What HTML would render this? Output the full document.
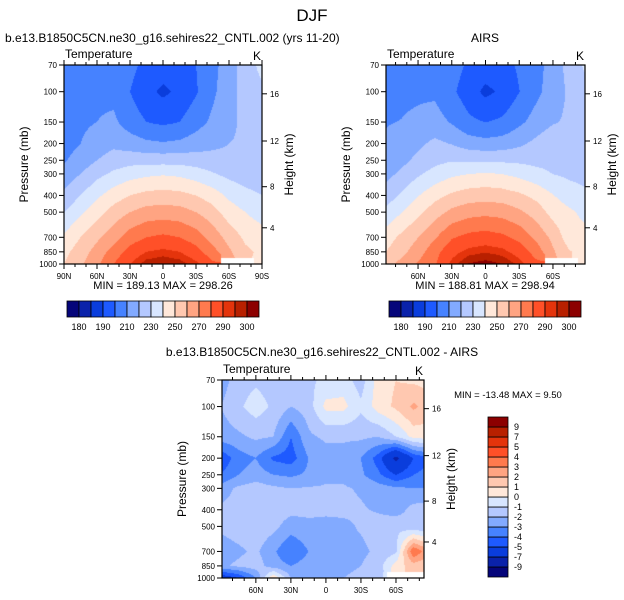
<!DOCTYPE html>
<html><head><meta charset="utf-8">
<style>
html,body{margin:0;padding:0;background:#fff;}
#wrap{position:relative;width:624px;height:600px;overflow:hidden;font-family:"Liberation Sans",sans-serif;}
canvas{position:absolute;}
svg{position:absolute;left:0;top:0;}
</style></head>
<body>
<div id="wrap">
<canvas id="c1"></canvas>
<canvas id="c2"></canvas>
<canvas id="c3"></canvas>
<svg id="s" width="624" height="600"></svg>
</div>
<script>
// ---- data ----
const lats = [90,75,60,45,30,15,0,-15,-30,-45,-60,-75,-90];
const pLevels = [70,100,150,200,250,300,400,500,700,850,1000];
const cntlT = [
[205,205,206,205,203,197,195,196,200,207,215,225,233],
[207,207,208,207,200,193,188,192,199,208,216,224,228],
[207,208,210,212,205,200,198,200,206,212,218,222,224],
[206,210,215,218,215,212,211,212,215,218,220,221,222],
[209,214,220,224,226,226,226,226,225,223,222,221,221],
[214,220,227,232,236,238,239,238,235,231,227,225,224],
[222,230,238,245,250,253,254,253,250,245,238,233,230],
[230,238,246,254,260,264,265,264,260,254,245,240,235],
[242,250,258,266,275,280,282,280,275,266,256,248,245],
[247,255,264,274,284,290,292,290,284,274,262,252,248],
[250,258,268,280,290,298,300,298,292,282,null,null,246]];
const diffT = [
[-2.5,-1.5,-1.2,-1.5,-1.8,-1.2,-0.8,-0.5,-1.5,0.5,1,0.8,0.5],
[-2,-1.2,-0.5,-1.2,-2,-1.5,0.3,0.3,-0.8,0.5,1.2,2.2,1.5],
[-2.5,-2.2,-1.8,-2,-4,-2.2,-1.8,-1.8,-1.8,-2,-1,0.3,0.5],
[-4.8,-3.5,-3,-4.2,-4.5,-3,-2.5,-2.5,-3,-4.5,-7.5,-5,-4],
[-4,-3,-2.5,-3,-3.2,-2.8,-2.2,-2.2,-2.8,-3.8,-5,-4,-3.5],
[-2.5,-1.8,-1.5,-1.8,-2,-1.9,-1.9,-1.9,-2.1,-2.5,-2.8,-3,-3],
[-1.8,-1.6,-1.4,-1.5,-1.7,-1.8,-1.8,-1.8,-1.9,-2.1,-2.5,-1.6,-1.5],
[-1.8,-1.5,-1.3,-1.7,-2.5,-2.2,-2.3,-2.2,-1.9,-1.6,-1.2,-1.8,-2],
[-2.5,-2.2,-1.8,-2.8,-4,-3,-2.5,-2.2,-2.2,-1.8,-1.2,4,2],
[-2.2,-1.8,-1.5,-2.5,-3,-2.5,-2.5,-2.5,-2,-1.5,0.5,1.5,1],
[-6,-5,-3,1,-2,-2.5,-2.5,-2,-1.5,-1,null,null,null]];
const airsT = cntlT.map((r,i)=>r.map((v,j)=>(v===null||diffT[i][j]===null)?v:v-diffT[i][j]));
const tLevels = [180,185,190,200,210,220,230,240,250,260,270,280,290,295,300];
const tLabels = ["180","190","210","230","250","270","290","300"];
const dLevels = [-9,-7,-5,-4,-3,-2,-1,0,1,2,3,4,5,7,9];
const dLabels = ["-9","-7","-5","-4","-3","-2","-1","0","1","2","3","4","5","7","9"];
const latTicks = [90,60,30,0,-30,-60,-90];
const pTicks = [70,100,150,200,250,300,400,500,700,850,1000];
const hTicks = [4,8,12,16];
const colors = ["#05057a","#0a22aa","#0a3ddc","#1e5aff","#4682ff","#82aaff","#b4c8ff","#d8e6ff","#ffe8da","#ffc8b0","#ffa482","#ff7a4e","#ff5028","#e4340c","#b82000","#8c0000"];

function hex(c){return [parseInt(c.substr(1,2),16),parseInt(c.substr(3,2),16),parseInt(c.substr(5,2),16)];}
const rgb = colors.map(hex);
const NS="http://www.w3.org/2000/svg";
const svg=document.getElementById('s');
function el(tag,attrs,parent){const e=document.createElementNS(NS,tag);for(const k in attrs)e.setAttribute(k,attrs[k]);(parent||svg).appendChild(e);return e;}
function txt(x,y,s,size,anchor,parent,rot){const t=el('text',{x:x,y:y,'font-size':size,'text-anchor':anchor||'start','font-family':'Liberation Sans, sans-serif',fill:'#000'},parent);if(rot)t.setAttribute('transform','rotate(-90 '+x+' '+y+')');t.textContent=s;return t;}

function pToFrac(p){return Math.log(p/70)/Math.log(1000/70);}
function hToP(h){if(h<=11)return 1013.25*Math.pow(1-2.25577e-5*h*1000,5.25588);return 226.32*Math.exp(-(h*1000-11000)/6341.6);}

function interp(grid,lat,p){
  let j=0;while(j<lats.length-2&&lat<lats[j+1])j++;
  let tj=(lats[j]-lat)/(lats[j]-lats[j+1]);tj=Math.max(0,Math.min(1,tj));
  const lp=Math.log(p);let i=0;while(i<pLevels.length-2&&lp>Math.log(pLevels[i+1]))i++;
  let ti=(lp-Math.log(pLevels[i]))/(Math.log(pLevels[i+1])-Math.log(pLevels[i]));ti=Math.max(0,Math.min(1,ti));
  const ni=ti<0.5?i:i+1,nj=tj<0.5?j:j+1;
  if(grid[ni][nj]===null)return null;
  const g=(a,b)=>{const v=grid[a][b];return v===null?grid[ni][nj]:v;};
  const a=g(i,j)*(1-tj)+g(i,j+1)*tj,b=g(i+1,j)*(1-tj)+g(i+1,j+1)*tj;
  return a*(1-ti)+b*ti;
}
function levelIdx(v,levels){let k=0;while(k<levels.length&&v>=levels[k])k++;return k;}

function drawPlot(cfg){
  const {cid,grid,levels,L,T,W,H,lat0,lat1,name,edgeLabels}=cfg;
  const cv=document.getElementById(cid);cv.width=W;cv.height=H;cv.style.left=L+'px';cv.style.top=T+'px';
  const ctx=cv.getContext('2d');const img=ctx.createImageData(W,H);
  for(let y=0;y<H;y++){const p=70*Math.pow(1000/70,(y+0.5)/H);
    for(let x=0;x<W;x++){const lat=lat0+(lat1-lat0)*(x+0.5)/W;
      const v=interp(grid,lat,p);const o=(y*W+x)*4;
      if(v===null){img.data[o]=255;img.data[o+1]=255;img.data[o+2]=255;img.data[o+3]=255;continue;}
      const c=rgb[levelIdx(v,levels)];img.data[o]=c[0];img.data[o+1]=c[1];img.data[o+2]=c[2];img.data[o+3]=255;}}
  ctx.putImageData(img,0,0);
  const g=el('g',{});
  
  
  el('rect',{x:L,y:T,width:W,height:H,fill:'none',stroke:'#000','stroke-width':1.2},g);
  const xs=lat=>L+(lat0-lat)/(lat0-lat1)*W;
  const ys=p=>T+pToFrac(p)*H;
  for(let la=90;la>=-90;la-=10){if(la>lat0+0.1||la<lat1-0.1)continue;const x=xs(la);const major=la%30===0;const len=major?5:3;
    el('line',{x1:x,y1:T+H,x2:x,y2:T+H+len,stroke:'#000','stroke-width':1},g);
    el('line',{x1:x,y1:T,x2:x,y2:T-len,stroke:'#000','stroke-width':1},g);}
  latTicks.forEach(la=>{if(la>lat0-(edgeLabels?-0.5:3)||la<lat1+(edgeLabels?-0.5:3))return;const s=la===0?'0':(Math.abs(la)+(la>0?'N':'S'));
    txt(xs(la),T+H+15,s,8,'middle',g);});
  pTicks.forEach(p=>{const y=ys(p);el('line',{x1:L-5,y1:y,x2:L,y2:y,stroke:'#000'},g);txt(L-7,y+3,String(p),8,'end',g);});
  hTicks.forEach(h=>{const y=ys(hToP(h));el('line',{x1:L+W,y1:y,x2:L+W+5,y2:y,stroke:'#000'},g);txt(L+W+8,y+3,String(h),8,'start',g);});
  txt(L-36,T+H/2,'Pressure (mb)',12,'middle',g,true);
  txt(L+W+31,T+H/2,'Height (km)',12,'middle',g,true);
  txt(L+1,T-7,'Temperature',12,'start',g);
  txt(L+W-1,T-5,'K',12,'end',g);
}
function hbar(x0,y0,w,h,levels,labels,name){
  const g=el('g',{});
  
  
  const n=levels.length+1,bw=w/n;
  for(let k=0;k<n;k++)el('rect',{x:x0+k*bw,y:y0,width:bw,height:h,fill:colors[k],stroke:'#000','stroke-width':0.8},g);
  labels.forEach((s,m)=>{const k=2*m+1;txt(x0+k*bw,y0+h+13,s,9,'middle',g);});
}
function vbar(x0,y0,w,h,levels,labels,name){
  const g=el('g',{});
  
  
  const n=levels.length+1,bh=h/n;
  for(let k=0;k<n;k++)el('rect',{x:x0,y:y0+(n-1-k)*bh,width:w,height:bh,fill:colors[k],stroke:'#000','stroke-width':0.8},g);
  labels.forEach((s,m)=>{const y=y0+(n-1-m)*bh;txt(x0+w+6,y+3,s,9,'start',g);});
}

const t0=txt(312,21,'DJF',17,'middle');
const t1=txt(5,42,'b.e13.B1850C5CN.ne30_g16.sehires22_CNTL.002 (yrs 11-20)',12,'start');
const t2=txt(485,42,'AIRS',12,'middle');
const t3=txt(322,356,'b.e13.B1850C5CN.ne30_g16.sehires22_CNTL.002 - AIRS',12,'middle');

drawPlot({cid:'c1',grid:cntlT,levels:tLevels,L:64,T:65,W:198,H:199,lat0:90,lat1:-90,name:'cntl',edgeLabels:true});
drawPlot({cid:'c2',grid:airsT,levels:tLevels,L:386,T:65,W:199,H:199,lat0:88.5,lat1:-88.5,name:'airs',edgeLabels:false});
drawPlot({cid:'c3',grid:diffT,levels:dLevels,L:222,T:380,W:202,H:198,lat0:89,lat1:-84,name:'diff',edgeLabels:false});

const m1=txt(163,289,'MIN = 189.13  MAX = 298.26',11,'middle');
m1.setAttribute('xml:space','preserve');
const m2=txt(485,289,'MIN = 188.81  MAX = 298.94',11,'middle');
m2.setAttribute('xml:space','preserve');
const m3=txt(508,398,'MIN = -13.48  MAX =   9.50',9.5,'middle');
m3.setAttribute('xml:space','preserve');

hbar(67,301,192,16,tLevels,tLabels,'cntl-colorbar');
hbar(389,301,192,16,tLevels,tLabels,'airs-colorbar');
vbar(488,417,20,160,dLevels,dLabels,'diff-colorbar');
</script>
</body></html>
